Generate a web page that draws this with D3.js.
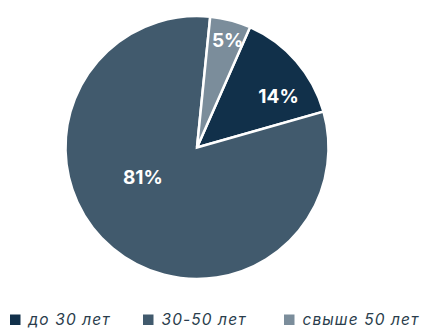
<!DOCTYPE html>
<html>
<head>
<meta charset="utf-8">
<script src="https://cdn.jsdelivr.net/npm/d3@7"></script>
<style>
  html, body { margin: 0; padding: 0; background: #fff; }
  svg { display: block; }
</style>
</head>
<body>
<svg id="chart" width="424" height="328"></svg>
<script>
// Age groups and their shares, in percent
const categories = ["до 30 лет", "30-50 лет", "свыше 50 лет"];
const shares = [14, 81, 5];
const colors = ["#11304a", "#415a6d", "#7b8d9b"];

const svg = d3.select("#chart");
const cx = 197, cy = 147.5, radius = 131.5;

const pie = d3.pie()
  .sort(null)
  .value(d => d)
  .startAngle(0.415)
  .endAngle(0.415 + 2 * Math.PI);

const arcs = pie(shares);
const arc = d3.arc().innerRadius(0).outerRadius(radius);

const g = svg.append("g").attr("transform", `translate(${cx},${cy})`);

g.selectAll("path")
  .data(arcs)
  .join("path")
  .attr("d", arc)
  .attr("fill", (d, i) => colors[i])
  .attr("stroke", "#fff")
  .attr("stroke-width", 2.5)
  .attr("stroke-linejoin", "miter");

// label placement: angle nudge (rad) and radial fraction per slice
const labelPlace = [
  { shift: 0.16, frac: 0.73 },
  { shift: 0.37, frac: 0.47 },
  { shift: 0.02, frac: 0.85 }
];

g.selectAll("text.pct")
  .data(arcs)
  .join("text")
  .attr("class", "pct")
  .each(function (d, i) {
    const a = (d.startAngle + d.endAngle) / 2 + labelPlace[i].shift;
    const r = radius * labelPlace[i].frac;
    d3.select(this)
      .attr("x", r * Math.sin(a))
      .attr("y", -r * Math.cos(a));
  })
  .attr("text-anchor", "middle")
  .attr("dominant-baseline", "central")
  .attr("fill", "#fff")
  .attr("font-family", "Inter, 'Open Sans', sans-serif")
  .attr("font-weight", 700)
  .attr("font-size", 19)
  .text(d => d.data + "%");

// legend along the bottom
const legendX = [10, 143, 284];
const legend = svg.append("g");
const items = legend.selectAll("g")
  .data(categories)
  .join("g")
  .attr("transform", (d, i) => `translate(${legendX[i]},314.5)`);

items.append("rect")
  .attr("width", 10.5)
  .attr("height", 10.5)
  .attr("fill", (d, i) => colors[i]);

items.append("text")
  .attr("x", 18.5)
  .attr("y", 10)
  .attr("fill", "#2a3d4c")
  .attr("font-family", "Inter, 'Open Sans', sans-serif")
  .attr("font-style", "italic")
  .attr("font-size", 15.5)
  .attr("letter-spacing", 1.1)
  .text(d => d);
</script>
</body>
</html>
